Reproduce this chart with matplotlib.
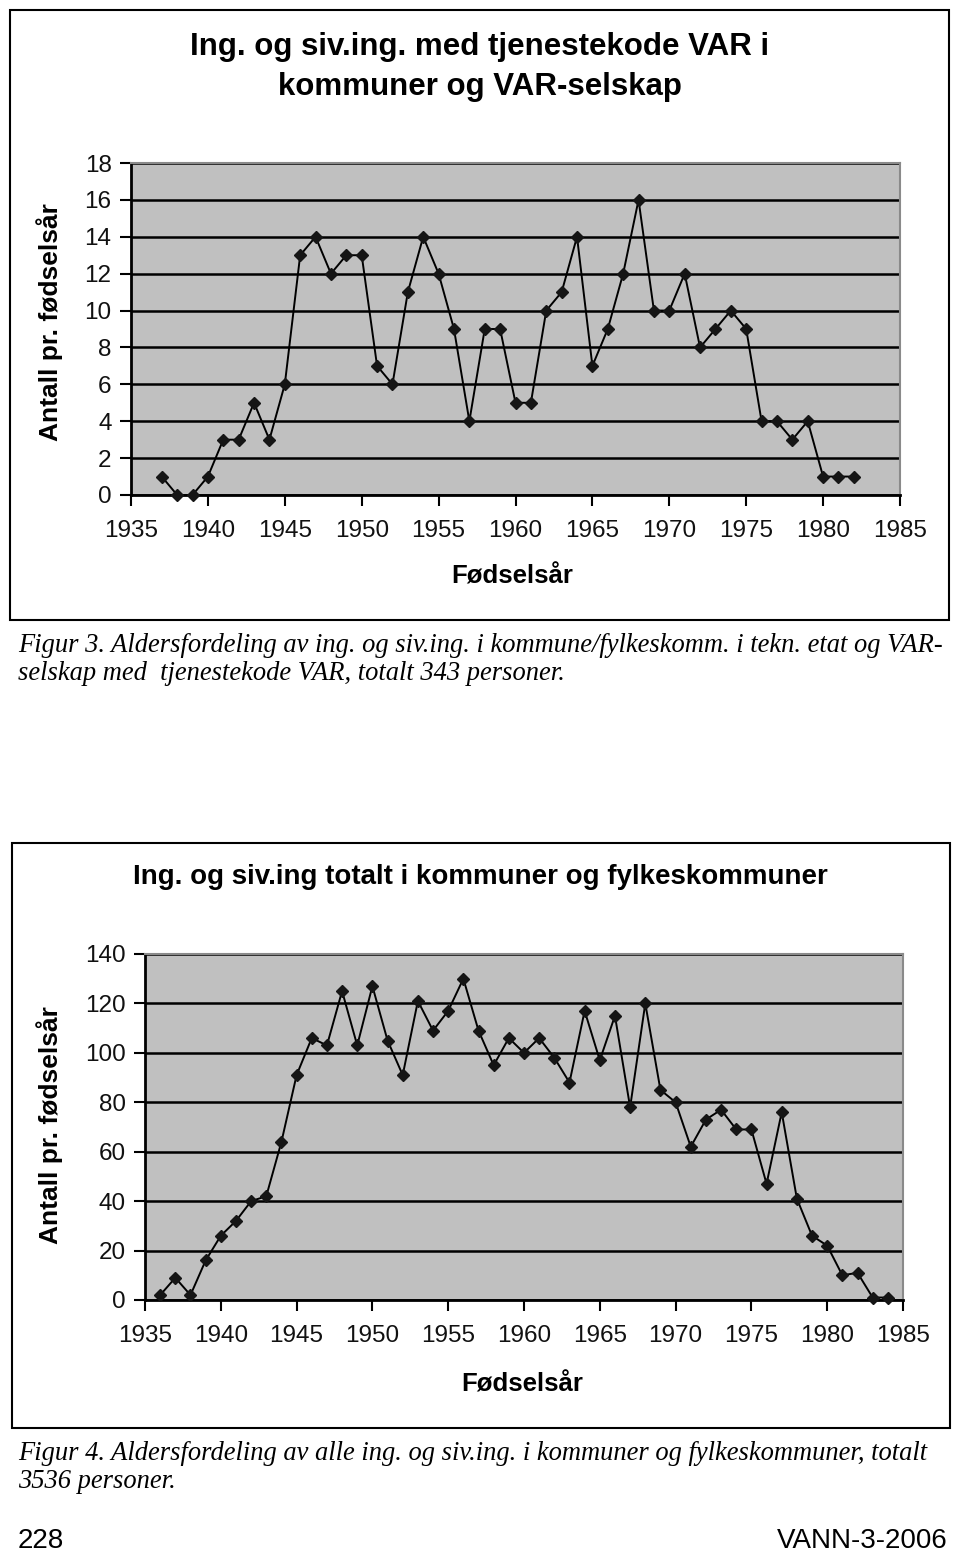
# Aldersfordeling av ing. og siv.ing. - to linjediagram med figurtekst

import numpy as np
import matplotlib
matplotlib.use("Agg")
import matplotlib.pyplot as plt
from matplotlib.patches import Rectangle

W, H = 960, 1554
SANS = ["Liberation Sans Narrow", "Liberation Sans", "DejaVu Sans"]
SERIF = ["Liberation Serif", "DejaVu Serif"]

# Figur 3 data (343 personer)
years_var = list(range(1937, 1983))
count_var = [1, 0, 0, 1, 3, 3, 5, 3, 6, 13,
             14, 12, 13, 13, 7, 6, 11, 14, 12, 9,
             4, 9, 9, 5, 5, 10, 11, 14, 7, 9,
             12, 16, 10, 10, 12, 8, 9, 10, 9, 4,
             4, 3, 4, 1, 1, 1]

# Figur 4 data (3536 personer)
years_tot = list(range(1936, 1985))
count_tot = [2, 9, 2, 16, 26, 32, 40, 42, 64, 91,
             106, 103, 125, 103, 127, 105, 91, 121, 109, 117,
             130, 109, 95, 106, 100, 106, 98, 88, 117, 97,
             115, 78, 120, 85, 80, 62, 73, 77, 69, 69,
             47, 76, 41, 26, 22, 10, 11, 1, 1]

xticks = list(range(1935, 1990, 5))


def rect(l, t, r, b):
    return [l / W, 1 - b / H, (r - l) / W, (b - t) / H]


def fx(x):
    return x / W


def fy(y):
    return 1 - y / H


def frame(fig, l, t, r, b):
    fig.patches.append(Rectangle((l / W, 1 - b / H), (r - l) / W, (b - t) / H,
                                 transform=fig.transFigure, fill=False,
                                 edgecolor="black", linewidth=1.5, zorder=0))


def chart(fig, box, years, counts, ymax, ystep):
    ax = fig.add_axes(rect(*box))
    ax.set_facecolor("#c0c0c0")
    ax.plot(years, counts, color="black", linewidth=1.4, marker="D",
            markersize=6.5, markerfacecolor="#151515", markeredgecolor="#151515",
            zorder=3, clip_on=False)
    ax.set_xlim(1935, 1985)
    ax.set_ylim(0, ymax)
    ax.set_xticks(xticks)
    ax.set_yticks(np.arange(0, ymax + 1, ystep))
    ax.yaxis.grid(True, color="black", linewidth=1.8)
    ax.set_axisbelow(True)
    for s in ["left", "bottom"]:
        ax.spines[s].set_color("black")
        ax.spines[s].set_linewidth(2)
    for s in ["top", "right"]:
        ax.spines[s].set_color("#8a8a8a")
        ax.spines[s].set_linewidth(1.5)
    ax.tick_params(direction="out", length=8, width=1.5, pad=6)
    for lab in ax.get_xticklabels() + ax.get_yticklabels():
        lab.set_family(SANS)
        lab.set_fontsize(17.5)
        lab.set_color("#111111")
    ax.tick_params(axis="x", pad=10)
    return ax


fig = plt.figure(figsize=(W / 100, H / 100), dpi=100)
fig.patch.set_facecolor("white")

# --- Figur 3 ---
frame(fig, 10, 10, 949, 620)
chart(fig, (131, 163, 900, 495), years_var, count_var, 18, 2)
fig.text(fx(480), fy(47), "Ing. og siv.ing. med tjenestekode VAR i",
         family=SANS, fontsize=22.5, fontweight="bold", ha="center", va="center")
fig.text(fx(480), fy(87), "kommuner og VAR-selskap",
         family=SANS, fontsize=22.5, fontweight="bold", ha="center", va="center")
fig.text(fx(50), fy(322), "Antall pr. fødselsår", family=SANS, fontsize=19,
         fontweight="bold", rotation=90, ha="center", va="center")
fig.text(fx(512), fy(577), "Fødselsår", family=SANS, fontsize=18.5,
         fontweight="bold", ha="center", va="center")

fig.text(fx(18), fy(646),
         "Figur 3. Aldersfordeling av ing. og siv.ing. i kommune/fylkeskomm. i tekn. etat og VAR-",
         family=SERIF, style="italic", fontsize=19.1, ha="left", va="center")
fig.text(fx(18), fy(674),
         "selskap med  tjenestekode VAR, totalt 343 personer.",
         family=SERIF, style="italic", fontsize=19.1, ha="left", va="center")

# --- Figur 4 ---
frame(fig, 12, 843, 950, 1428)
chart(fig, (145, 954, 903, 1300), years_tot, count_tot, 140, 20)
fig.text(fx(480), fy(877), "Ing. og siv.ing totalt i kommuner og fylkeskommuner",
         family=SANS, fontsize=20, fontweight="bold", ha="center", va="center")
fig.text(fx(50), fy(1125), "Antall pr. fødselsår", family=SANS, fontsize=19,
         fontweight="bold", rotation=90, ha="center", va="center")
fig.text(fx(522), fy(1384), "Fødselsår", family=SANS, fontsize=18.5,
         fontweight="bold", ha="center", va="center")

fig.text(fx(18), fy(1453),
         "Figur 4. Aldersfordeling av alle ing. og siv.ing. i kommuner og fylkeskommuner, totalt",
         family=SERIF, style="italic", fontsize=19.1, ha="left", va="center")
fig.text(fx(18), fy(1481), "3536 personer.",
         family=SERIF, style="italic", fontsize=19.1, ha="left", va="center")

# sidefot
fig.text(fx(18), fy(1541), "228", family=SANS, fontsize=20, ha="left", va="center")
fig.text(fx(948), fy(1541), "VANN-3-2006", family=SANS, fontsize=20,
         ha="right", va="center")

fig.savefig("out.png", dpi=100, facecolor="white")
